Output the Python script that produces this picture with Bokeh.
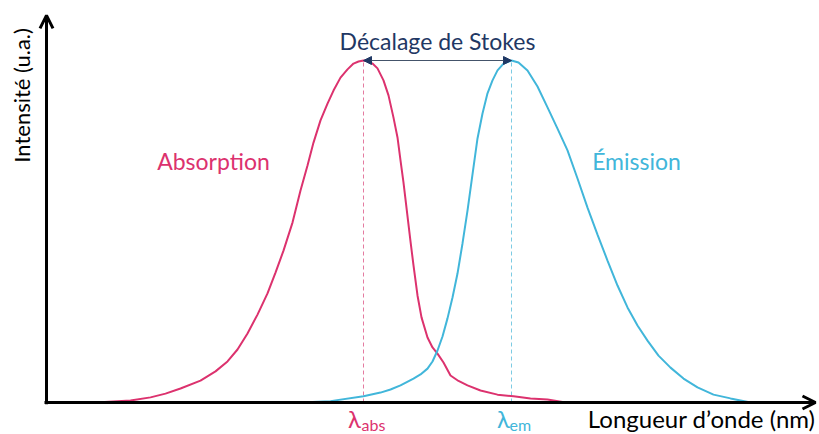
from bokeh.plotting import figure
from bokeh.models import Range1d, Arrow, OpenHead, NormalHead, Label
from bokeh.embed import file_html
from bokeh.resources import INLINE

# ---- data (arbitrary wavelength units, intensity in % of maximum) ----
abs_wl = [308, 327, 342, 352, 359.5, 367, 377, 384.5, 390.5, 395.5, 400.5, 405.5,
          410.5, 414.5, 418.5, 423, 427, 430.5, 433.5, 437, 440.5, 443.5, 447,
          450.5, 453.5, 456, 458.5,
          460.5, 463, 465.5, 468.5, 471, 473.5, 475.5, 477, 478.5, 479.5, 481, 482,
          483.5, 485.5, 487.5, 490.5, 493, 495.5, 498.5, 502, 506, 510.5, 517,
          525.5, 533.5, 542, 550.5, 559.5]
abs_int = [0, 0.1, 0.6, 1.5, 2.6, 4.1, 6.4, 9.1, 12.0, 15.5, 20.2, 25.7, 31.9, 38.0,
           44.4, 52.6, 62.0, 69.3, 76.0, 82.5, 87.4, 91.2, 95.0, 97.4, 99.1, 99.7, 100,
           99.9, 99.1, 97.7, 94.2, 89.8, 83.3, 77.5, 70.8, 64.3, 59.4, 52.0, 47.1,
           40.1, 31.3, 24.9, 19.0, 16.1, 14.3, 11.7, 7.9, 6.3, 5.0, 3.5, 2.3, 1.8,
           1.2, 0.9, 0]

em_wl = [427, 442, 458.5, 467, 472, 477, 483.5, 487, 490.5, 493, 495.5, 498, 500.5,
         503, 505.5, 508, 510.5, 513, 515.5, 518, 520.5, 523, 525.5, 528.5, 532.5,
         536, 540.5, 545.5, 550.5, 555.5, 560.5, 565.5, 570.5, 575.5, 580.5, 585.5,
         590.5, 595.5, 600.5, 606, 612, 618.5, 625.5, 633.5, 642, 652]
em_int = [0, 0.4, 1.8, 2.9, 3.8, 5.0, 7.0, 8.2, 9.9, 12.0, 15.2, 19.3, 24.6, 30.7,
          37.7, 46.5, 56.1, 66.7, 77.2, 84.5, 90.4, 94.2, 97.1, 99.1, 100, 99.4,
          97.1, 92.4, 86.3, 80.1, 73.7, 65.5, 57.0, 49.1, 41.5, 34.2, 27.8, 22.5,
          18.1, 13.7, 10.2, 7.0, 4.4, 2.3, 1.2, 0]

peak_abs = 458.5
peak_em = 532.5
axis_x0 = 300
axis_x1 = 684.5
axis_y1 = 113.2

curve_labels = ["Absorption", "Émission"]
shift_label = "Décalage de Stokes"
x_title = "Longueur d’onde (nm)"
y_title = "Intensité (u.a.)"
lambda_sym = "λ"
lambda_subs = ["abs", "em"]

PINK = "#DC326E"
CYAN = "#41B6DA"
NAVY = "#1F3864"
FONT = "Lato"

p = figure(width=819, height=434, output_backend="svg", toolbar_location=None,
           x_range=Range1d(277, 686.5), y_range=Range1d(-9.3567, 117.544),
           x_axis_location=None, y_axis_location=None, min_border=0)
p.grid.visible = False
p.outline_line_color = None
p.background_fill_color = "white"
p.border_fill_color = "white"

# dashed guides
p.segment(x0=[peak_abs], y0=[0], x1=[peak_abs], y1=[100], line_color="#E47BA0",
          line_width=1, line_dash="4 3")
p.segment(x0=[peak_em], y0=[0], x1=[peak_em], y1=[100], line_color="#7CCBE3",
          line_width=1, line_dash="4 3")

# curves
p.line(abs_wl, abs_int, line_color=PINK, line_width=2)
p.line(em_wl, em_int, line_color=CYAN, line_width=2)

# axes with arrows
p.add_layout(Arrow(end=OpenHead(size=13, line_width=3, line_color="black"),
                   x_start=axis_x0, y_start=-0.5, x_end=axis_x0, y_end=axis_y1,
                   line_width=3, line_color="black"))
p.add_layout(Arrow(end=OpenHead(size=13, line_width=3, line_color="black"),
                   x_start=axis_x0 - 1, y_start=0, x_end=axis_x1, y_end=0,
                   line_width=3, line_color="black"))

# Stokes shift arrow
p.add_layout(Arrow(start=NormalHead(size=8, fill_color=NAVY, line_color=NAVY),
                   end=NormalHead(size=8, fill_color=NAVY, line_color=NAVY),
                   x_start=peak_abs, y_start=100, x_end=peak_em, y_end=100,
                   line_width=1.2, line_color="#44546A"))

# texts
p.add_layout(Label(x=(peak_abs + peak_em) / 2, y=105.8, text=shift_label,
                   text_font=FONT, text_font_size="23px", text_color=NAVY,
                   text_align="center", text_baseline="middle"))
p.add_layout(Label(x=383.5, y=70.5, text=curve_labels[0], text_font=FONT,
                   text_font_size="23px", text_color=PINK,
                   text_align="center", text_baseline="middle"))
p.add_layout(Label(x=595, y=70.5, text=curve_labels[1], text_font=FONT,
                   text_font_size="23px", text_color=CYAN,
                   text_align="center", text_baseline="middle"))
p.add_layout(Label(x=287.5, y=89.8, text=y_title, text_font=FONT,
                   text_font_size="22px", text_color="black", angle=1.5707963,
                   text_align="center", text_baseline="middle"))
p.add_layout(Label(x=axis_x1, y=-4.7, text=x_title, text_font=FONT,
                   text_font_size="24px", text_color="black",
                   text_align="right", text_baseline="middle"))

for pk, sub, col, dx in [(peak_abs, lambda_subs[0], PINK, -9),
                         (peak_em, lambda_subs[1], CYAN, -8)]:
    p.add_layout(Label(x=pk, y=0, x_offset=dx, y_offset=-16, text=lambda_sym,
                       text_font=FONT, text_font_size="24px", text_color=col,
                       text_align="center", text_baseline="middle"))
    p.add_layout(Label(x=pk, y=0, x_offset=-2, y_offset=-22, text=sub,
                       text_font=FONT, text_font_size="16px", text_color=col,
                       text_align="left", text_baseline="middle"))

open("out.html", "w").write(file_html(p, INLINE))
